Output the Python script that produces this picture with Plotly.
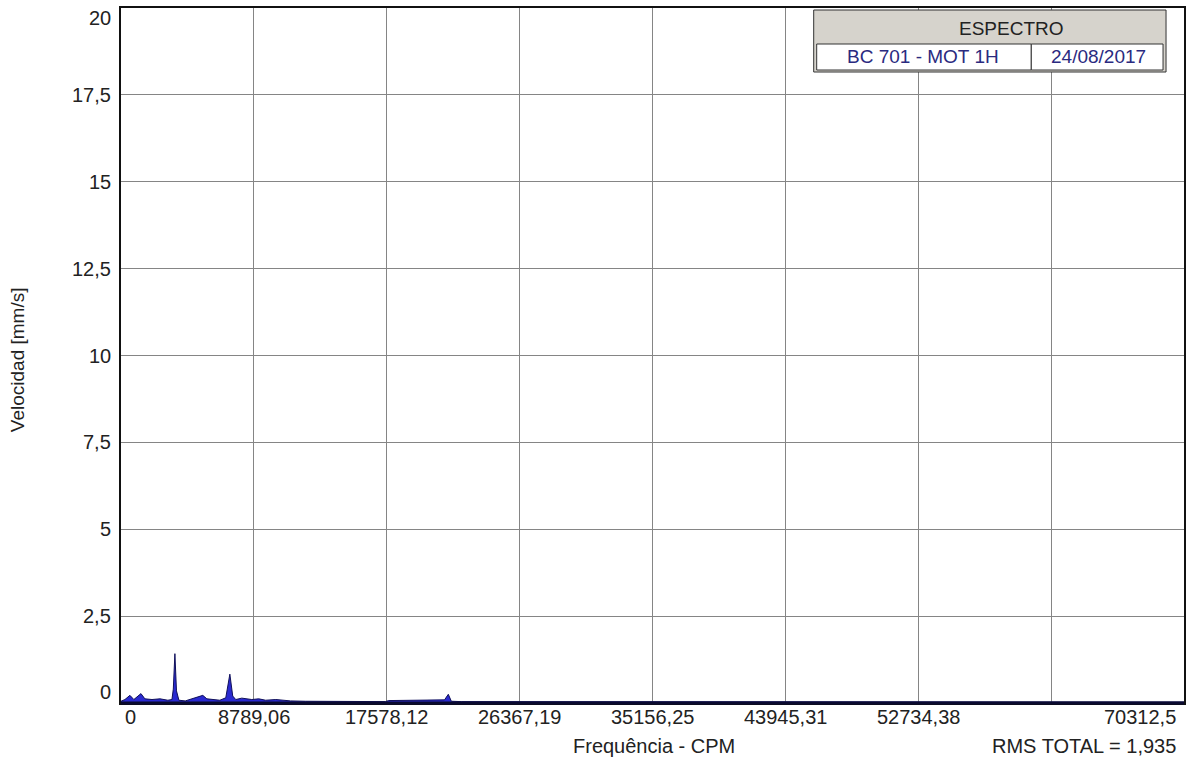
import plotly.graph_objects as go

# Spectrum: frequency (CPM) and velocity (mm/s)
freq_cpm = [0, 260, 590, 850, 1320, 1580, 2050, 2580, 3100, 3370, 3460, 3565, 3670,
            3830, 4250, 4710, 5100, 5410, 5680, 6010, 6540, 6930, 7200, 7390, 7590,
            7990, 8320, 8650, 9110, 9570, 10240, 11220, 12200, 14500, 17500, 17700,
            19000, 20500, 21400, 21650, 21850, 22500, 26000, 30000, 35000, 40000,
            45000, 50000, 55000, 60000, 65000, 70312]
velocity = [0.05, 0.10, 0.22, 0.10, 0.27, 0.12, 0.10, 0.12, 0.08, 0.10, 0.40, 1.42, 0.35,
            0.08, 0.06, 0.12, 0.18, 0.22, 0.12, 0.10, 0.08, 0.15, 0.83, 0.20, 0.10,
            0.14, 0.12, 0.10, 0.12, 0.08, 0.10, 0.06, 0.05, 0.04, 0.04, 0.07,
            0.07, 0.08, 0.09, 0.25, 0.05, 0.04, 0.04, 0.03, 0.04, 0.03,
            0.03, 0.04, 0.03, 0.03, 0.03, 0.03]

x_ticks = [0, 8789.06, 17578.12, 26367.19, 35156.25, 43945.31, 52734.38, 61523.44, 70312.5]
x_tick_text = ["0", "8789,06", "17578,12", "26367,19", "35156,25", "43945,31", "52734,38", "", "70312,5"]
y_ticks = [0, 2.5, 5, 7.5, 10, 12.5, 15, 17.5, 20]
y_tick_text = ["0", "2,5", "5", "7,5", "10", "12,5", "15", "17,5", "20"]

FONT = "Liberation Sans, Arial, sans-serif"
FS = 20
TXT = "#222222"
X_MAX = 70312.5

# plot area in pixels
L, R, T, B = 121, 1186, 8, 703


def px_x(p):
    return (p - L) / (R - L)


def px_y(p):
    return (B - p) / (B - T)


fig = go.Figure()
fig.add_trace(go.Scatter(
    x=freq_cpm, y=velocity, mode="lines",
    line=dict(color="#10105a", width=1),
    fill="tozeroy", fillcolor="#2a2ad0",
    hoverinfo="skip", showlegend=False,
))

fig.update_layout(
    width=1189, height=760,
    margin=dict(l=L, r=1189 - R, t=T, b=760 - B),
    paper_bgcolor="white", plot_bgcolor="white",
    font=dict(family=FONT, size=FS, color=TXT),
    showlegend=False,
)
fig.update_xaxes(
    range=[0, X_MAX], tickvals=x_ticks, showticklabels=False,
    showgrid=True, gridcolor="#858585", gridwidth=1,
    showline=True, linecolor="#111111", linewidth=2, mirror=True,
    zeroline=False, ticks="",
)
fig.update_yaxes(
    range=[0, 20], tickvals=y_ticks, showticklabels=False,
    showgrid=True, gridcolor="#858585", gridwidth=1,
    showline=True, linecolor="#111111", linewidth=2, mirror=True,
    zeroline=False, ticks="",
)

# thicker bottom axis line
fig.add_shape(type="line", xref="paper", yref="paper", x0=0, x1=1, y0=0, y1=0,
              line=dict(color="#0a0a30", width=3))

# x tick labels
for v, t in zip(x_ticks, x_tick_text):
    if not t:
        continue
    if v == 0:
        anchor, shift = "left", 2
    elif v == X_MAX:
        anchor, shift = "right", -6
    else:
        anchor, shift = "center", 0
    fig.add_annotation(x=v, y=0, xref="x", yref="paper", text=t, showarrow=False,
                       xanchor=anchor, yanchor="middle", xshift=shift, yshift=-14,
                       font=dict(size=FS, color=TXT))

# y tick labels
for v, t in zip(y_ticks, y_tick_text):
    ysh = 0
    if v == 0:
        ysh = 11
    elif v == 20:
        ysh = -10
    fig.add_annotation(x=0, y=v, xref="paper", yref="y", text=t, showarrow=False,
                       xanchor="right", yanchor="middle", xshift=-8, yshift=ysh,
                       font=dict(size=FS, color=TXT))

# axis titles and footer
fig.add_annotation(x=px_x(655), y=px_y(746), xref="paper", yref="paper",
                   text="Frequência - CPM", showarrow=False,
                   xanchor="center", yanchor="middle", font=dict(size=FS, color=TXT))
fig.add_annotation(x=px_x(1180), y=px_y(746), xref="paper", yref="paper",
                   text="RMS TOTAL = 1,935", showarrow=False,
                   xanchor="right", yanchor="middle", font=dict(size=FS, color=TXT))
fig.add_annotation(x=px_x(17), y=px_y(360), xref="paper", yref="paper",
                   text="Velocidad [mm/s]", showarrow=False, textangle=-90,
                   xanchor="center", yanchor="middle", font=dict(size=FS - 1, color=TXT))

# header box
fig.add_shape(type="rect", xref="paper", yref="paper",
              x0=px_x(815), x1=px_x(1168), y0=px_y(72), y1=px_y(10),
              fillcolor="#d6d3cc", line=dict(color="#333333", width=1))
fig.add_shape(type="rect", xref="paper", yref="paper",
              x0=px_x(818), x1=px_x(1033), y0=px_y(70), y1=px_y(44),
              fillcolor="white", line=dict(color="#333333", width=1))
fig.add_shape(type="rect", xref="paper", yref="paper",
              x0=px_x(1033), x1=px_x(1165), y0=px_y(70), y1=px_y(44),
              fillcolor="white", line=dict(color="#333333", width=1))
fig.add_annotation(x=px_x(1013), y=px_y(28), xref="paper", yref="paper", text="ESPECTRO",
                   showarrow=False, xanchor="center", yanchor="middle",
                   font=dict(size=FS - 1, color=TXT))
fig.add_annotation(x=px_x(925), y=px_y(57), xref="paper", yref="paper", text="BC 701 - MOT 1H",
                   showarrow=False, xanchor="center", yanchor="middle",
                   font=dict(size=FS - 1, color="#2a2a80"))
fig.add_annotation(x=px_x(1100), y=px_y(57), xref="paper", yref="paper", text="24/08/2017",
                   showarrow=False, xanchor="center", yanchor="middle",
                   font=dict(size=FS - 1, color="#2a2a80"))

fig.write_html("out.html")
